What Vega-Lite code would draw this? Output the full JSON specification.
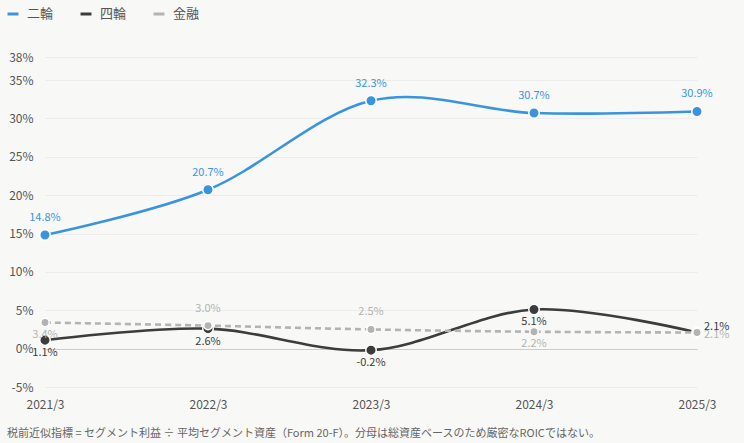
{
  "$schema": "https://vega.github.io/schema/vega-lite/v6.json",
  "width": 660,
  "height": 330,
  "autosize": "none",
  "padding": {"left": 37, "top": 57, "right": 47, "bottom": 56},
  "background": "#f8f8f6",
  "config": {
    "font": "Noto Sans CJK JP",
    "view": {"stroke": null}
  },
  "title": {
    "text": "税前近似指標 = セグメント利益 ÷ 平均セグメント資産（Form 20-F）。分母は総資産ベースのため厳密なROICではない。",
    "orient": "bottom",
    "anchor": "start",
    "frame": "group",
    "dx": -30,
    "offset": 18,
    "fontSize": 11,
    "fontWeight": "normal",
    "color": "#666666"
  },
  "data": {
    "values": [
      {"period": "2021/3", "series": "二輪", "value": 14.8},
      {"period": "2022/3", "series": "二輪", "value": 20.7},
      {"period": "2023/3", "series": "二輪", "value": 32.3},
      {"period": "2024/3", "series": "二輪", "value": 30.7},
      {"period": "2025/3", "series": "二輪", "value": 30.9},
      {"period": "2021/3", "series": "四輪", "value": 1.1},
      {"period": "2022/3", "series": "四輪", "value": 2.6},
      {"period": "2023/3", "series": "四輪", "value": -0.2},
      {"period": "2024/3", "series": "四輪", "value": 5.1},
      {"period": "2025/3", "series": "四輪", "value": 2.1},
      {"period": "2021/3", "series": "金融", "value": 3.4},
      {"period": "2022/3", "series": "金融", "value": 3.0},
      {"period": "2023/3", "series": "金融", "value": 2.5},
      {"period": "2024/3", "series": "金融", "value": 2.2},
      {"period": "2025/3", "series": "金融", "value": 2.1}
    ]
  },
  "transform": [
    {"calculate": "replace(format(datum.value, '.1f'), '\u2212', '-') + '%'", "as": "lab"}
  ],
  "encoding": {
    "x": {
      "field": "period",
      "type": "ordinal",
      "scale": {"type": "point", "range": [8, 660], "padding": 0},
      "axis": {
        "title": null,
        "labelAngle": 0,
        "domain": false,
        "ticks": false,
        "grid": false,
        "labelPadding": 12,
        "labelFontSize": 12,
        "labelColor": "#555555"
      }
    },
    "y": {
      "field": "value",
      "type": "quantitative",
      "scale": {"domain": [-5, 38], "nice": false, "zero": false},
      "axis": {
        "title": null,
        "values": [-5, 0, 5, 10, 15, 20, 25, 30, 35, 38],
        "labelExpr": "datum.value + '%'",
        "domain": false,
        "ticks": false,
        "labelPadding": 4,
        "labelFontSize": 12,
        "labelColor": "#555555",
        "gridColor": {"condition": {"test": "datum.value === 0", "value": "#cccccc"}, "value": "#ececec"},
        "gridWidth": 1
      }
    },
    "color": {
      "field": "series",
      "type": "nominal",
      "scale": {"domain": ["二輪", "四輪", "金融"], "range": ["#3a94dd", "#3c3c3c", "#b3b3b3"]},
      "legend": {
        "title": null,
        "orient": "none",
        "legendX": -31,
        "legendY": -50,
        "direction": "horizontal",
        "symbolType": "stroke",
        "symbolSize": 120,
        "symbolStrokeWidth": 3,
        "labelFontSize": 13,
        "labelColor": "#555555",
        "labelOffset": 7,
        "columnPadding": 20
      }
    }
  },
  "layer": [
    {
      "transform": [{"filter": "datum.series !== '金融'"}],
      "mark": {"type": "line", "interpolate": "cardinal", "tension": 0, "strokeWidth": 2.6},
      "encoding": {}
    },
    {
      "transform": [{"filter": "datum.series === '金融'"}],
      "mark": {"type": "line", "interpolate": "cardinal", "tension": 0, "strokeWidth": 2.6, "strokeDash": [6, 4]},
      "encoding": {}
    },
    {
      "mark": {"type": "circle", "stroke": "#ffffff", "strokeWidth": 1.5, "opacity": 1},
      "encoding": {
        "size": {"condition": {"test": "datum.series === '金融'", "value": 70}, "value": 110}
      }
    },
    {
      "transform": [{"filter": "datum.series === '二輪'"}],
      "mark": {"type": "text", "dy": -17, "fontSize": 11},
      "encoding": {"text": {"field": "lab"}}
    },
    {
      "transform": [{"filter": "datum.series === '四輪' && datum.period !== '2025/3'"}],
      "mark": {"type": "text", "dy": 13, "fontSize": 11},
      "encoding": {"text": {"field": "lab"}}
    },
    {
      "transform": [{"filter": "datum.series === '四輪' && datum.period === '2025/3'"}],
      "mark": {"type": "text", "dx": 7, "dy": -6, "align": "left", "fontSize": 11},
      "encoding": {"text": {"field": "lab"}}
    },
    {
      "transform": [{"filter": "datum.series === '金融' && (datum.period === '2022/3' || datum.period === '2023/3')"}],
      "mark": {"type": "text", "dy": -17, "fontSize": 11},
      "encoding": {"text": {"field": "lab"}}
    },
    {
      "transform": [{"filter": "datum.series === '金融' && (datum.period === '2021/3' || datum.period === '2024/3')"}],
      "mark": {"type": "text", "dy": 12, "fontSize": 11},
      "encoding": {"text": {"field": "lab"}}
    },
    {
      "transform": [{"filter": "datum.series === '金融' && datum.period === '2025/3'"}],
      "mark": {"type": "text", "dx": 7, "dy": 2, "align": "left", "fontSize": 11},
      "encoding": {"text": {"field": "lab"}}
    }
  ]
}
